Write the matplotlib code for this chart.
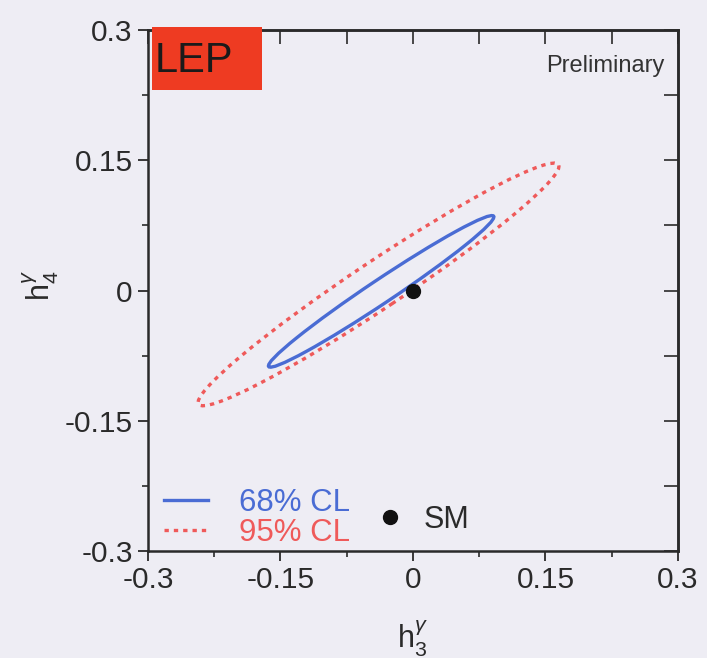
import matplotlib
matplotlib.use('Agg')
import matplotlib.pyplot as plt
from matplotlib.patches import Ellipse, Rectangle
from matplotlib.lines import Line2D
from matplotlib.ticker import MultipleLocator

plt.rcParams['font.family'] = ['Liberation Sans', 'DejaVu Sans']
plt.rcParams['mathtext.fontset'] = 'custom'
plt.rcParams['mathtext.rm'] = 'Liberation Sans'
plt.rcParams['mathtext.it'] = 'Liberation Sans:italic'
plt.rcParams['axes.unicode_minus'] = False

# confidence-level contours in the (h3, h4) plane: centre, full axes, tilt (deg)
cl_labels = ['68% CL', '95% CL']
cl_centre_h3 = [-0.036, -0.039]
cl_centre_h4 = [-0.001, 0.007]
cl_major = [0.308, 0.492]
cl_minor = [0.027, 0.054]
cl_angle = [34.2, 34.1]

# Standard Model point
sm_h3 = [0.0]
sm_h4 = [0.0]

ticks = [-0.3, -0.15, 0, 0.15, 0.3]
tick_labels = ['-0.3', '-0.15', '0', '0.15', '0.3']

bg = '#eeedf4'
ink = '#2a2a2a'
blue = '#4a6cd4'
red = '#ef5a5a'
cl_colors = [blue, red]
cl_styles = ['-', (0, (1.3, 1.5))]

fig = plt.figure(figsize=(7.07, 6.58), dpi=100, facecolor=bg)
ax = fig.add_axes([0.2093, 0.1626, 0.7496, 0.7918])
ax.set_facecolor(bg)

for i in [1, 0]:
    ell = Ellipse((cl_centre_h3[i], cl_centre_h4[i]), cl_major[i], cl_minor[i],
                  angle=cl_angle[i], fill=False, edgecolor=cl_colors[i],
                  linewidth=2.4, linestyle=cl_styles[i], zorder=3)
    ax.add_patch(ell)

ax.plot(sm_h3, sm_h4, 'o', color='#111111', markersize=10, zorder=4)

ax.set_xlim(-0.3, 0.3)
ax.set_ylim(-0.3, 0.3)
ax.set_xticks(ticks)
ax.set_xticklabels(tick_labels)
ax.set_yticks(ticks)
ax.set_yticklabels(tick_labels)
ax.xaxis.set_minor_locator(MultipleLocator(0.075))
ax.yaxis.set_minor_locator(MultipleLocator(0.075))
ax.tick_params(which='major', direction='out', length=7, width=1.3,
               colors=ink, labelsize=21.5, pad=4)
ax.tick_params(which='minor', direction='out', length=4, width=1.2, colors=ink)

# inward ticks on the top and right frame
top = ax.secondary_xaxis('top')
top.set_xticks(ticks)
top.xaxis.set_minor_locator(MultipleLocator(0.075))
top.tick_params(which='both', direction='in', length=10, width=1.2,
                colors=ink, labeltop=False)
right = ax.secondary_yaxis('right')
right.set_yticks(ticks)
right.yaxis.set_minor_locator(MultipleLocator(0.075))
right.tick_params(which='both', direction='in', length=10, width=1.2,
                  colors=ink, labelright=False)
for sp in list(ax.spines.values()) + [top.spines['top'], right.spines['right']]:
    sp.set_color(ink)
    sp.set_linewidth(1.8)

ax.set_xlabel(r'$\mathrm{h}_3^{\gamma}$', fontsize=22, color=ink)
ax.set_ylabel(r'$\mathrm{h}_4^{\gamma}$', fontsize=22, color=ink)
ax.xaxis.set_label_coords(0.5, -0.13)
ax.yaxis.set_label_coords(-0.165, 0.51)

# LEP tag and preliminary note
ax.add_patch(Rectangle((0.0075, 0.885), 0.2075, 0.12, transform=ax.transAxes,
                       facecolor='#ee3b22', edgecolor='none', clip_on=False, zorder=5))
ax.text(0.013, 0.919, 'LEP', transform=ax.transAxes, fontsize=30,
        ha='left', va='baseline', color='#1a1a1a', zorder=6)
ax.text(0.975, 0.919, 'Preliminary', transform=ax.transAxes, fontsize=17,
        ha='right', va='baseline', color='#333333')

cl_handles = [Line2D([], [], color=c, lw=2.4, linestyle=s)
              for c, s in zip(cl_colors, cl_styles)]
leg1 = ax.legend(cl_handles, cl_labels, loc='lower left',
                 bbox_to_anchor=(0.03, 0.005), frameon=False, fontsize=22.5,
                 handlelength=1.4, handletextpad=1.0, labelspacing=0.0,
                 borderpad=0, borderaxespad=0, labelcolor=cl_colors)
ax.add_artist(leg1)
sm_handle = Line2D([], [], color='#111111', marker='o', linestyle='none',
                   markersize=10)
ax.legend([sm_handle], ['SM'], loc='lower left', bbox_to_anchor=(0.428, 0.031),
          frameon=False, fontsize=22, handlelength=1.0, handletextpad=0.6,
          borderpad=0, borderaxespad=0, labelcolor=ink)

fig.savefig('out.png', dpi=100, facecolor=bg)
